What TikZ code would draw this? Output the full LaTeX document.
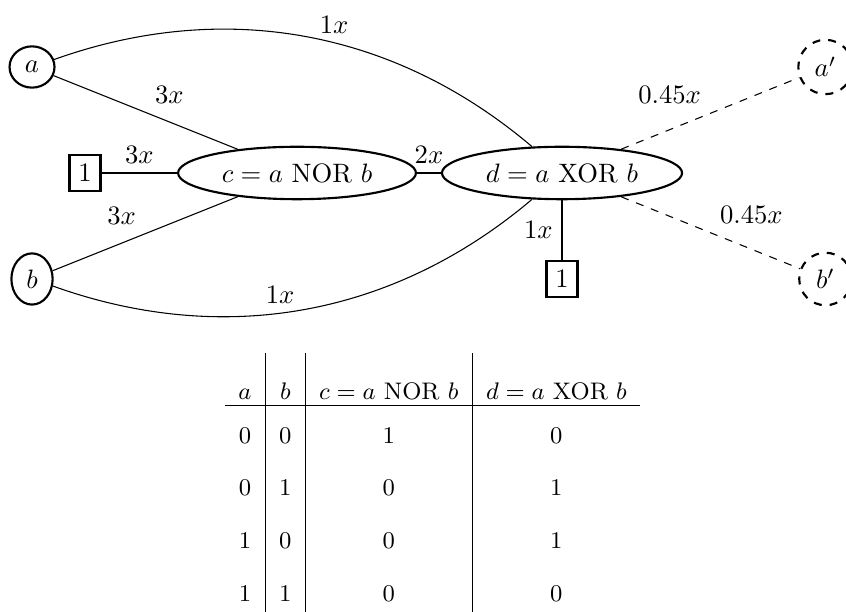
\documentclass[tikz,border=0pt]{standalone}
\usepackage{array}
\usetikzlibrary{shapes.geometric}
\renewcommand{\arraystretch}{1.8}
\setlength{\tabcolsep}{5pt}
\tikzset{
  varn/.style={ellipse, draw, thick},
  gaten/.style={ellipse, draw, thick},
  constn/.style={rectangle, draw, thick},
  outn/.style={circle, draw, thick, dashed},
  owire/.style={dashed},
}

\begin{document}
\begin{tikzpicture}
    \useasboundingbox (-3.923,-5.798) rectangle (7.251,2.285);
    % inputs
    \node[varn] (a) at (-3.5,1.4) {$a$};
    \node[varn] (b) at (-3.5,-1.4) {$b$};
    % gates
    \node[gaten] (c) at (0,0) {$c = a$ NOR $b$};
    \node[gaten] (d) at (3.5,0) {$d = a$ XOR $b$};
    % constant units
    \node[constn] (kc) at (-2.8,0) {1};
    \node[constn] (kd) at (3.5,-1.4) {1};
    % outputs
    \node[outn] (ap) at (6.98,1.4) {$a'$};
    \node[outn] (bp) at (6.98,-1.4) {$b'$};
    % weights
    \draw (a) -- node[above right] {$3x$} (c);
    \draw (b) -- node[above left] {$3x$} (c);
    \draw (kc) -- node[above] {$3x$} (c);
    \draw (c) -- node[above] {$2x$} (d);
    \draw (a) to[bend left=30, looseness=0.95] node[above, pos=0.56] {$1x$} (d);
    \draw (b) to[bend right=30, looseness=0.95] node[above, pos=0.45] {$1x$} (d);
    \draw (d) -- node[left] {$1x$} (kd);
    \draw[owire] (d) -- node[above left] {$0.45x$} (ap);
    \draw[owire] (d) -- node[above right] {$0.45x$} (bp);
    % truth table
    \node[anchor=north, inner sep=0pt, font=\small] (tt) at (1.79,-2.37) {%
      \begin{tabular}{c|c|c|c}
        \rule{0pt}{17.4pt}$a$ & $b$ & $c = a$ NOR $b$ & $d = a$ XOR $b$ \\[-3.7pt] \hline
        0 & 0 & 1 & 0 \\
        0 & 1 & 0 & 1 \\
        1 & 0 & 0 & 1 \\
        1 & 1 & 0 & 0
      \end{tabular}};
\end{tikzpicture}
\end{document}
